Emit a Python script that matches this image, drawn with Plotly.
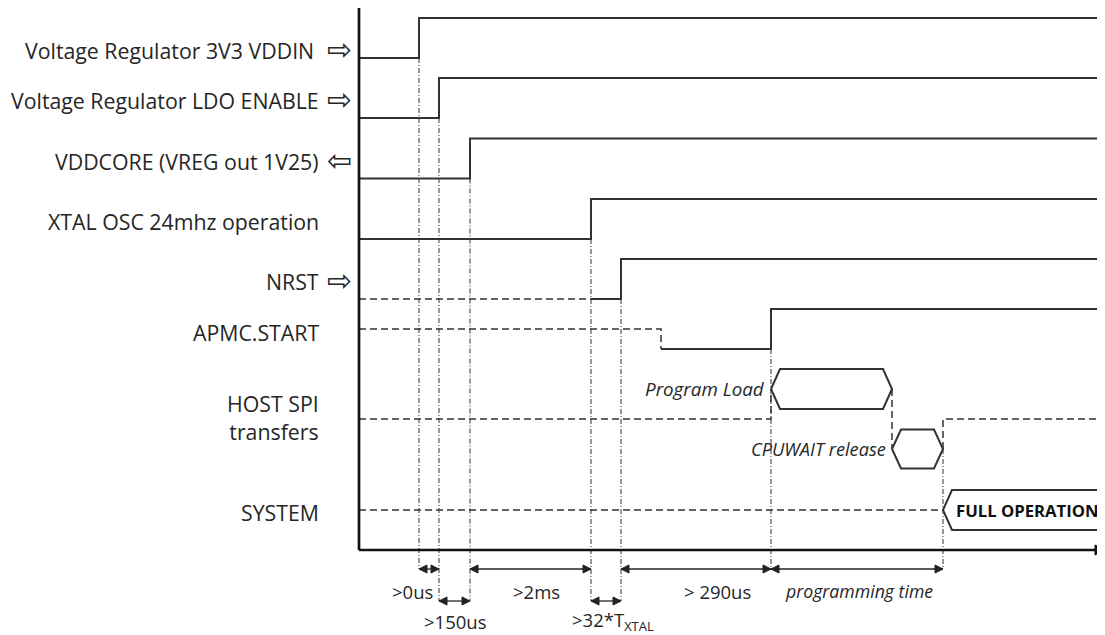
import plotly.graph_objects as go

# ---------------- data ----------------
SIGNALS = ["Voltage Regulator 3V3 VDDIN", "Voltage Regulator LDO ENABLE",
           "VDDCORE (VREG out 1V25)", "XTAL OSC 24mhz operation", "NRST",
           "APMC.START", "HOST SPI<br>transfers", "SYSTEM"]
DIRECTION = ["in", "in", "out", "", "in", "", "", ""]       # pin direction arrows
ROW_CENTER = [38, 98, 158.5, 219, 279, 329, 419, 510]      # row centre (diagram units)
RISE_T = [419, 439, 470, 591, 621, 771]                     # rising edge time of rows 0..5
UNDEFINED_UNTIL = [None, None, None, None, 591, 661]        # dashed (undefined) state end
T_START, T_END = 359, 1105

BURST_LABELS = ["Program Load", "CPUWAIT release"]          # HOST SPI bursts
BURST_START = [771, 892]
BURST_END = [892, 943]
BURST_SIDE = [-1, 1]                                        # above / below idle line

SYSTEM_STATE = "FULL OPERATION"
SYSTEM_START = 943

INTERVAL_LABELS = [">0us", ">150us", ">2ms", ">32*T<sub>XTAL</sub>", "> 290us",
                   "<i>programming time</i>"]
INTERVAL_START = [419, 439, 470, 591, 621, 771]
INTERVAL_END = [439, 470, 591, 621, 771, 943]
INTERVAL_ROW = [0, 1, 0, 1, 0, 0]

# ---------------- layout constants ----------------
PAGE_OFFSET = 8          # browser body margin; diagram units == screen pixels
SWING = 20
AXIS_Y = 550
AXIS_TOP = 8
ARROW_ROW_Y = [569, 601]
TEXT_ROW_Y = [591, 621]
LABEL_Y = [50, 100, 161, 221, 281, 332, 417, 512]
LABEL_RIGHT = 321
INTERVAL_TEXT_SHIFT = [-17, 0, 6, 7, 21, 2]
SPI_BURST_OFFSET = 30
HEX_SLANT = 9
HEAD_L, HEAD_W = 8, 4

INK = "#262626"
LINE = "#333333"
FONT = "'Open Sans', 'DejaVu Sans', sans-serif"

fig = go.Figure()


def path(xs, ys, dash="solid", width=2.0, color=LINE, fill=None):
    fig.add_trace(go.Scatter(x=xs, y=ys, mode="lines", hoverinfo="skip", showlegend=False,
                             line=dict(color=color, width=width, dash=dash),
                             fill=fill, fillcolor=color if fill else None))


DASHED = "7px,4px"
DASHDOT = "5px,2px,1px,2px"

# dash-dot guide lines at event times
events = sorted(set(INTERVAL_START + INTERVAL_END))
for t in events:
    if t in RISE_T:
        top = ROW_CENTER[RISE_T.index(t)] + SWING
    else:
        top = ROW_CENTER[6] + SPI_BURST_OFFSET
    rows = [INTERVAL_ROW[i] for i in range(len(INTERVAL_START))
            if INTERVAL_START[i] == t or INTERVAL_END[i] == t]
    bottom = ARROW_ROW_Y[max(rows)]
    path([t, t], [top, bottom], dash=DASHDOT, width=1.1, color="#444")

# digital signals (rows 0..5)
for i, t_rise in enumerate(RISE_T):
    low = ROW_CENTER[i] + SWING
    high = ROW_CENTER[i] - SWING
    und = UNDEFINED_UNTIL[i]
    if und is None:
        path([T_START, t_rise, t_rise, T_END], [low, low, high, high])
    elif i == 4:
        path([T_START, und], [low, low], dash=DASHED, width=1.5)
        path([und, t_rise, t_rise, T_END], [low, low, high, high])
    else:
        mid = ROW_CENTER[i]
        path([T_START, und, und], [mid, mid, low], dash=DASHED, width=1.5)
        path([und, t_rise, t_rise, T_END], [low, low, high, high])

# HOST SPI row
spi = ROW_CENTER[6]
b0 = spi + BURST_SIDE[0] * SPI_BURST_OFFSET
b1 = spi + BURST_SIDE[1] * SPI_BURST_OFFSET
path([T_START, BURST_START[0], BURST_START[0]], [spi, spi, b0], dash=DASHED, width=1.5)
path([BURST_END[0], BURST_END[0]], [b0, b1], dash=DASHED, width=1.5)
path([BURST_END[1], BURST_END[1], T_END], [b1, spi, spi], dash=DASHED, width=1.5)


def hexagon(a, b, yc, h=SWING):
    xs = [a, a + HEX_SLANT, b - HEX_SLANT, b, b - HEX_SLANT, a + HEX_SLANT, a]
    ys = [yc, yc - h, yc - h, yc, yc + h, yc + h, yc]
    path(xs, ys, width=2.0)


BURST_FONT = [18.8, 18.2]
for k in range(len(BURST_LABELS)):
    yc = spi + BURST_SIDE[k] * SPI_BURST_OFFSET
    hexagon(BURST_START[k], BURST_END[k], yc, SWING if k == 0 else 19.5)
    fig.add_annotation(x=BURST_START[k], y=yc, text="<i>%s</i>" % BURST_LABELS[k],
                       xanchor="right", yanchor="middle", xshift=-4, showarrow=False,
                       font=dict(family=FONT, size=BURST_FONT[k], color=INK))

# SYSTEM row
sysy = ROW_CENTER[7]
path([T_START, SYSTEM_START], [sysy, sysy], dash=DASHED, width=1.5)
hexagon(SYSTEM_START, T_END + 5, sysy)
fig.add_annotation(x=SYSTEM_START + 11, y=sysy, text="<b>%s</b>" % SYSTEM_STATE,
                   xanchor="left", yanchor="middle", showarrow=False,
                   font=dict(family=FONT, size=16.7, color="#111"))

# axes
path([T_START, T_START], [AXIS_TOP, AXIS_Y], width=2.7, color="#111")
path([T_START, T_END - HEAD_L], [AXIS_Y, AXIS_Y], width=2.7, color="#111")
path([T_END, T_END - HEAD_L - 2, T_END - HEAD_L - 2, T_END],
     [AXIS_Y, AXIS_Y - HEAD_W - 1, AXIS_Y + HEAD_W + 1, AXIS_Y],
     width=1, color="#111", fill="toself")

# interval arrows
for i in range(len(INTERVAL_LABELS)):
    a, b = INTERVAL_START[i], INTERVAL_END[i]
    y = ARROW_ROW_Y[INTERVAL_ROW[i]]
    path([a, b], [y, y], width=1.3, color="#222")
    path([b, b - HEAD_L, b - HEAD_L, b], [y, y - HEAD_W, y + HEAD_W, y],
         width=1, color="#222", fill="toself")
    path([a, a + HEAD_L, a + HEAD_L, a], [y, y - HEAD_W, y + HEAD_W, y],
         width=1, color="#222", fill="toself")
    italic = INTERVAL_LABELS[i].startswith("<i>")
    fig.add_annotation(x=(a + b) / 2, y=TEXT_ROW_Y[INTERVAL_ROW[i]], text=INTERVAL_LABELS[i],
                       xanchor="center", yanchor="middle", showarrow=False,
                       xshift=INTERVAL_TEXT_SHIFT[i],
                       font=dict(family=FONT, size=17.7 if italic else 18.5, color=INK))

# row labels
ARROW_GLYPH = {"in": "\u21e8", "out": "\u21e6", "": ""}
for i, name in enumerate(SIGNALS):
    fig.add_annotation(x=LABEL_RIGHT - 5 if DIRECTION[i] == "in" and i == 0 else LABEL_RIGHT,
                       y=LABEL_Y[i], text=name, xanchor="right",
                       yanchor="middle", align="right", showarrow=False,
                       font=dict(family=FONT, size=21.3, color=INK))
    g = ARROW_GLYPH[DIRECTION[i]]
    if g:
        fig.add_annotation(x=LABEL_RIGHT + 18, y=LABEL_Y[i] - 1, text=g, xanchor="center",
                           yanchor="middle", showarrow=False,
                           font=dict(family="'DejaVu Sans', sans-serif", size=30, color=INK))

fig.update_layout(width=1105 - PAGE_OFFSET, height=635 - PAGE_OFFSET,
                  margin=dict(l=0, r=0, t=0, b=0),
                  paper_bgcolor="white", plot_bgcolor="white",
                  xaxis=dict(range=[PAGE_OFFSET, 1105], visible=False, fixedrange=True),
                  yaxis=dict(range=[635, PAGE_OFFSET], visible=False, fixedrange=True),
                  showlegend=False)

fig.write_html("out.html")
